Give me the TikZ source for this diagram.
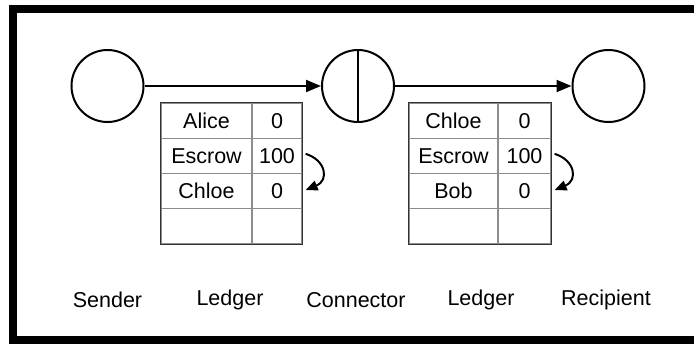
\documentclass[tikz,border=0pt]{standalone}
\usepackage{fontspec}
\setmainfont{Liberation Sans}
\usetikzlibrary{arrows.meta}
\begin{document}
\begin{tikzpicture}[x=1pt,y=-1pt,
  party/.style={draw,circle,line width=2pt,minimum size=72pt,inner sep=0pt},
  cell/.style={draw=black!45,line width=1.2pt,rectangle,inner sep=0pt,minimum height=35.25pt,font=\fontsize{21.5}{25}\selectfont},
  lab/.style={font=\fontsize{21.5}{25}\selectfont,inner sep=0pt},
  flow/.style={line width=2pt,-{Triangle[length=15pt,width=12pt]}},
  move/.style={line width=2pt,-{Triangle[length=12pt,width=10pt]}},
  outer/.style={draw=black!80,line width=1.5pt}]
\useasboundingbox (0,0) rectangle (694,343);
\clip (0,0) rectangle (694,343);
\draw[line width=8pt] (13,9) rectangle (705,340);
% parties
\node[party] (s) at (107.5,86) {};
\node[party] (c) at (358,86) {};
\node[party] (r) at (608.5,86) {};
\draw[line width=2pt] (c.north) -- (c.south);
\draw[flow] (s.east) -- (c.west);
\draw[flow] (c.east) -- (r.west);
% left ledger
\foreach \n/\t/\v [count=\i from 0] in {a/Alice/0,b/Escrow/100,cc/Chloe/0,d//}{
  \node[cell,minimum width=91pt] (L\n1) at (206.5,120.6+35.25*\i) {\t};
  \node[cell,minimum width=50pt] (L\n2) at (277,120.6+35.25*\i) {\v};
}
\draw[outer] (La1.north west) rectangle (Ld2.south east);
% right ledger
\foreach \n/\t/\v [count=\i from 0] in {a/Chloe/0,b/Escrow/100,cc/Bob/0,d//}{
  \node[cell,minimum width=89pt] (R\n1) at (453.5,120.6+35.25*\i) {\t};
  \node[cell,minimum width=53pt] (R\n2) at (524.5,120.6+35.25*\i) {\v};
}
\draw[outer] (Ra1.north west) rectangle (Rd2.south east);
% moves
\draw[move] ([xshift=3pt,yshift=2pt]Lb2.east) .. controls +(20,6) and +(24,-10) .. ([xshift=3pt,yshift=1pt]Lcc2.east);
\draw[move] ([xshift=3pt,yshift=2pt]Rb2.east) .. controls +(20,6) and +(24,-10) .. ([xshift=3pt,yshift=1pt]Rcc2.east);
% labels
\node[lab] (l1) at (107.5,300) {Sender};
\node[lab] (l2) at (230,300) {Ledger};
\node[lab] (l3) at (356,300) {Connector};
\node[lab] (l4) at (481,300) {Ledger};
\node[lab] (l5) at (606,300) {Recipient};
\end{tikzpicture}
\end{document}
